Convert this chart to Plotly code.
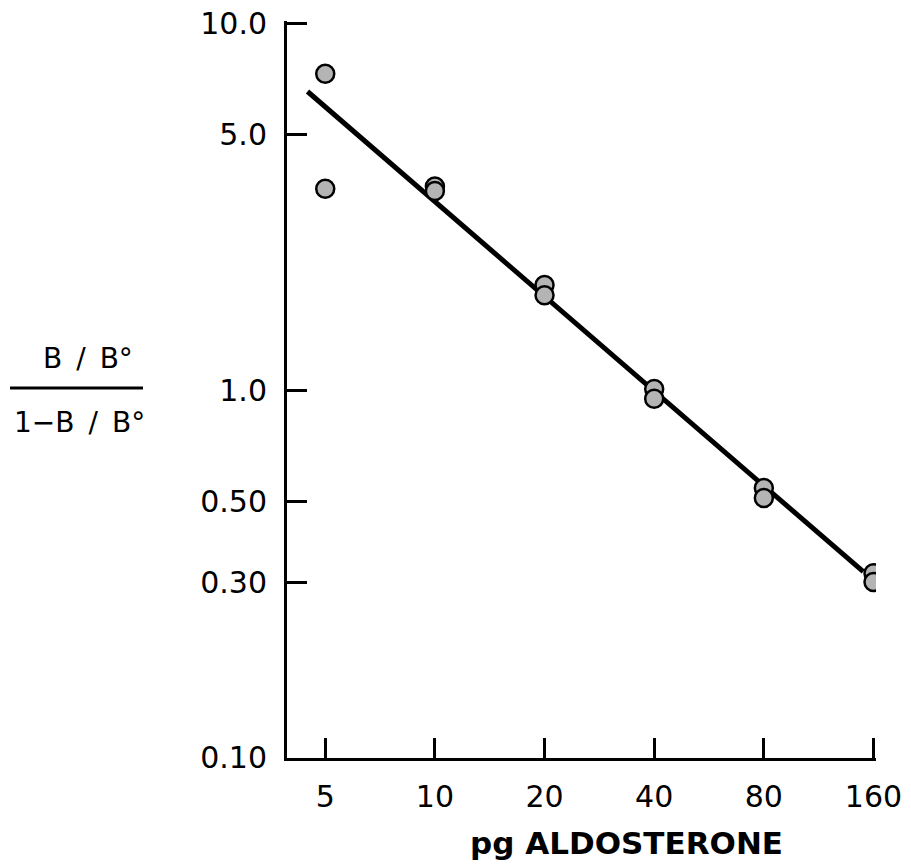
import plotly.graph_objects as go

# Data
dose_pg = [5, 5, 10, 10, 20, 20, 40, 40, 80, 80, 160, 160]
ratio = [7.3, 3.55, 3.6, 3.5, 1.94, 1.82, 1.01, 0.95, 0.543, 0.51, 0.318, 0.301]

fit_x = [4.47, 150.0]
fit_y = [6.53, 0.321]

x_ticks = [5, 10, 20, 40, 80, 160]
x_tick_text = ["5", "10", "20", "40", "80", "160"]
y_ticks = [0.1, 0.3, 0.5, 1.0, 5.0, 10.0]
y_tick_text = ["0.10", "0.30", "0.50", "1.0", "5.0", "10.0"]

FONT = "DejaVu Sans"

fig = go.Figure()
fig.add_trace(go.Scatter(
    x=fit_x, y=fit_y, mode="lines",
    line=dict(color="black", width=5), showlegend=False, hoverinfo="skip"))
fig.add_trace(go.Scatter(
    x=dose_pg, y=ratio, mode="markers",
    marker=dict(size=18, color="#b4b4b4", line=dict(color="black", width=2.5)),
    showlegend=False))

W, H = 911, 865
# desired plot area in page pixels (page body margin removed below)
X0, X1, Y0, Y1 = 287, 876, 21, 758
L, T = X0, Y0
R, B = W - X1, H - Y1
pw, ph = X1 - X0, Y1 - Y0


def px(xp):
    return (xp - X0) / pw


def py(yp):
    return (Y1 - yp) / ph


fig.update_layout(
    width=W, height=H,
    margin=dict(l=L, r=R, t=T, b=B, pad=0),
    paper_bgcolor="white", plot_bgcolor="white",
    font=dict(family=FONT, color="black"),
    xaxis=dict(
        type="log", range=[0.594, 2.211], automargin=False,
        tickvals=x_ticks, ticktext=x_tick_text,
        ticks="inside", ticklen=20, tickwidth=3, tickcolor="black",
        showline=True, linewidth=3, linecolor="black", mirror=False,
        showgrid=False, zeroline=False,
        tickfont=dict(size=30, family=FONT, color="black"),
        ticklabelstandoff=10, ticklabeloverflow="allow",
    ),
    yaxis=dict(
        type="log", range=[-1.001, 1.007], automargin=False,
        tickvals=y_ticks, ticktext=y_tick_text,
        ticks="inside", ticklen=20, tickwidth=3, tickcolor="black",
        showline=True, linewidth=3, linecolor="black", mirror=False,
        showgrid=False, zeroline=False,
        tickfont=dict(size=30, family=FONT, color="black"),
        ticklabelstandoff=11, ticklabeloverflow="allow",
    ),
    annotations=[
        dict(text="pg ALDOSTERONE", x=px(626), y=py(843), xref="paper", yref="paper",
             showarrow=False, xanchor="center", yanchor="middle",
             font=dict(size=31, family=FONT, color="black", weight=600)),
        dict(text="B\u2002/\u2002B°", x=px(88), y=py(358), xref="paper", yref="paper",
             showarrow=False, xanchor="center", yanchor="middle",
             font=dict(size=28, family=FONT, color="black")),
        dict(text="1−B\u2002/\u2002B°", x=px(79), y=py(422), xref="paper", yref="paper",
             showarrow=False, xanchor="center", yanchor="middle",
             font=dict(size=28, family=FONT, color="black")),
    ],
    shapes=[
        dict(type="line", xref="paper", yref="paper",
             x0=px(10), x1=px(143), y0=py(388), y1=py(388),
             line=dict(color="black", width=3)),
    ],
)

fig.write_html("out.html",
               config={"displayModeBar": False},
               post_script="document.body.style.margin='0';document.body.style.overflow='hidden';")
